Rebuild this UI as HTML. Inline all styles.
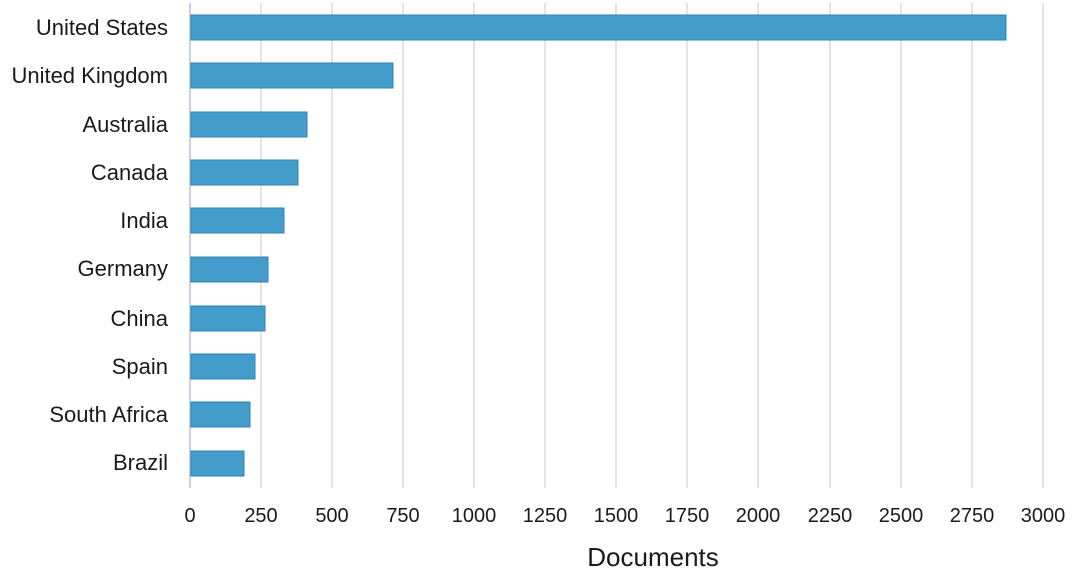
<!DOCTYPE html>
<html><head><style>body{margin:0;background:#fff}svg{display:block}</style></head><body>
<svg width="1072" height="572" xmlns="http://www.w3.org/2000/svg" font-family="Liberation Sans, sans-serif">
<g stroke="#d4d4d4" stroke-width="1.3">
<line x1="261" y1="3" x2="261" y2="488"/><line x1="332" y1="3" x2="332" y2="488"/><line x1="403" y1="3" x2="403" y2="488"/><line x1="474" y1="3" x2="474" y2="488"/><line x1="545" y1="3" x2="545" y2="488"/><line x1="616" y1="3" x2="616" y2="488"/><line x1="687" y1="3" x2="687" y2="488"/><line x1="758" y1="3" x2="758" y2="488"/><line x1="830" y1="3" x2="830" y2="488"/><line x1="901" y1="3" x2="901" y2="488"/><line x1="972" y1="3" x2="972" y2="488"/><line x1="1043" y1="3" x2="1043" y2="488"/>
</g>
<line x1="190" y1="3" x2="190" y2="488" stroke="#b8c0dc" stroke-width="1.5"/>
<g fill="#439cc9" stroke="#2f85b8" stroke-width="1">
<rect x="191" y="15" width="815" height="25"/>
<rect x="191" y="63" width="202" height="25"/>
<rect x="191" y="112" width="116" height="25"/>
<rect x="191" y="160" width="107" height="25"/>
<rect x="191" y="208" width="93" height="25"/>
<rect x="191" y="257" width="77" height="25"/>
<rect x="191" y="306" width="74" height="25"/>
<rect x="191" y="354" width="64" height="25"/>
<rect x="191" y="402" width="59" height="25"/>
<rect x="191" y="451" width="53" height="25"/>
</g>
<g font-size="22" fill="#1a1a1a" text-anchor="end">
<text x="168" y="35">United States</text>
<text x="168" y="83">United Kingdom</text>
<text x="168" y="132">Australia</text>
<text x="168" y="180">Canada</text>
<text x="168" y="228">India</text>
<text x="168" y="276">Germany</text>
<text x="168" y="326">China</text>
<text x="168" y="374">Spain</text>
<text x="168" y="422">South Africa</text>
<text x="168" y="470">Brazil</text>
</g>
<g font-size="20" fill="#1a1a1a" text-anchor="middle">
<text x="190" y="522">0</text><text x="261" y="522">250</text><text x="332" y="522">500</text><text x="403" y="522">750</text><text x="474" y="522">1000</text><text x="545" y="522">1250</text><text x="616" y="522">1500</text><text x="687" y="522">1750</text><text x="758" y="522">2000</text><text x="830" y="522">2250</text><text x="901" y="522">2500</text><text x="972" y="522">2750</text><text x="1043" y="522">3000</text>
</g>
<text x="653" y="566" font-size="26" fill="#1a1a1a" text-anchor="middle">Documents</text>
</svg>
</body></html>
